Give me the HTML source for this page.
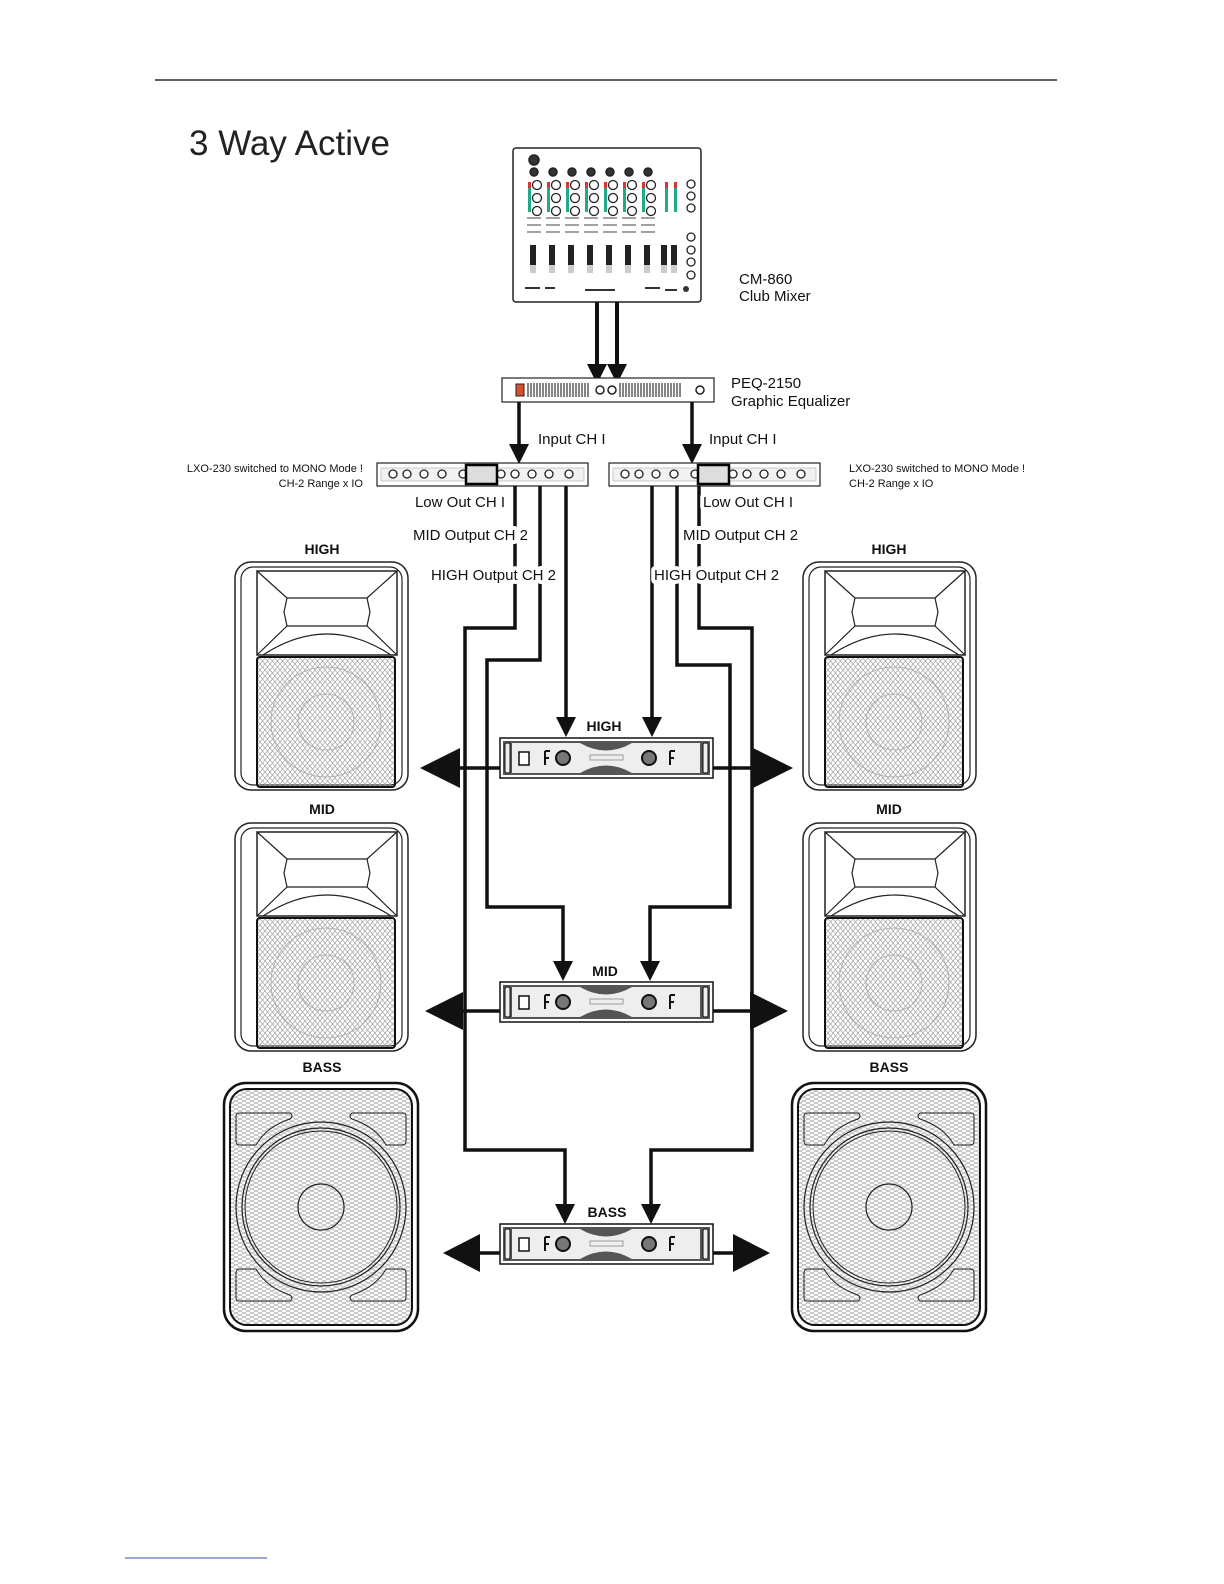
<!DOCTYPE html>
<html><head><meta charset="utf-8"><style>
html,body{margin:0;padding:0;background:#fff;}
body{width:1224px;height:1584px;position:relative;overflow:hidden;font-family:"Liberation Sans",sans-serif;}
svg{position:absolute;left:0;top:0;}
</style></head><body>
<svg width="1224" height="1584" viewBox="0 0 1224 1584" xmlns="http://www.w3.org/2000/svg">
<defs>
<pattern id="hatch" width="8" height="8" patternUnits="userSpaceOnUse">
<path d="M0 0L8 4M0 4L8 8M0 8L8 4M0 4L8 0" stroke="#aaa" stroke-width="0.7" fill="none"/>
</pattern>
<pattern id="mesh" width="5" height="6" patternUnits="userSpaceOnUse">
<path d="M0 0L2.5 3L0 6M5 0L2.5 3L5 6" stroke="#999" stroke-width="0.6" fill="none"/>
</pattern>
<g id="top">
<rect x="0" y="0" width="173" height="228" rx="16" fill="#fff" stroke="#222" stroke-width="1.5"/>
<rect x="6" y="5" width="161" height="218" rx="12" fill="none" stroke="#222" stroke-width="1.2"/>
<rect x="22" y="9" width="140" height="84" fill="none" stroke="#222" stroke-width="1.5"/>
<path d="M52 36 L132 36 L135 50 L132 64 L52 64 L49 50 Z" fill="none" stroke="#222" stroke-width="1.2"/>
<path d="M22 9 L52 36 M162 9 L132 36 M22 93 L52 64 M162 93 L132 64 M28 93 Q60 72 92 72 Q124 72 156 93" fill="none" stroke="#222" stroke-width="1.2"/>
<rect x="22" y="95" width="138" height="130" rx="3" fill="url(#mesh)" stroke="#111" stroke-width="2"/>
<circle cx="91" cy="160" r="55" fill="none" stroke="#aaa" stroke-width="0.8"/>
<circle cx="91" cy="160" r="28" fill="none" stroke="#aaa" stroke-width="0.8"/>
</g>
<g id="bass">
<rect x="0" y="0" width="194" height="248" rx="22" fill="#fff" stroke="#111" stroke-width="2.5"/>
<rect x="6" y="6" width="182" height="236" rx="17" fill="url(#hatch)" stroke="#111" stroke-width="2"/>
<path d="M12 33 Q12 30 16 30 L66 30 Q70 33 66 36 Q42 44 32 62 L16 62 Q12 62 12 58 Z" fill="none" stroke="#222"/>
<path d="M182 33 Q182 30 178 30 L128 30 Q124 33 128 36 Q152 44 162 62 L178 62 Q182 62 182 58 Z" fill="none" stroke="#222"/>
<path d="M12 215 Q12 218 16 218 L66 218 Q70 215 66 212 Q42 204 32 186 L16 186 Q12 186 12 190 Z" fill="none" stroke="#222"/>
<path d="M182 215 Q182 218 178 218 L128 218 Q124 215 128 212 Q152 204 162 186 L178 186 Q182 186 182 190 Z" fill="none" stroke="#222"/>
<circle cx="97" cy="124" r="85" fill="none" stroke="#222" stroke-width="1.2"/>
<circle cx="97" cy="124" r="79" fill="none" stroke="#222" stroke-width="1.2"/>
<circle cx="97" cy="124" r="76" fill="none" stroke="#222" stroke-width="1"/>
<circle cx="97" cy="124" r="23" fill="none" stroke="#222" stroke-width="1.2"/>
</g>
<g id="amp">
<rect x="0" y="0" width="213" height="40" fill="#fff" stroke="#111" stroke-width="1.5"/>
<path d="M3 3 L210 3 L210 37 L3 37 Z" fill="#555"/>
<path d="M12 5 L80 5 Q106 20 132 5 L200 5 L200 35 L132 35 Q106 20 80 35 L12 35 Z" fill="#eee"/>
<rect x="5" y="5" width="5" height="30" rx="2" fill="#eee" stroke="#111"/>
<rect x="203" y="5" width="5" height="30" rx="2" fill="#eee" stroke="#111"/>
<rect x="19" y="14" width="10" height="13" fill="#fff" stroke="#111" stroke-width="1.5"/>
<path d="M45 13 L45 27 M45 13 L50 13 M45 20 L49 20" stroke="#111" stroke-width="2"/>
<circle cx="63" cy="20" r="7" fill="#777" stroke="#111" stroke-width="2"/>
<circle cx="149" cy="20" r="7" fill="#777" stroke="#111" stroke-width="2"/>
<path d="M170 13 L170 27 M170 13 L175 13 M170 20 L174 20" stroke="#111" stroke-width="2"/>
<rect x="90" y="17" width="33" height="5" fill="none" stroke="#888" stroke-width="0.8"/>
</g>
<g id="xo">
<rect x="0" y="0" width="211" height="23" fill="#fff" stroke="#222" stroke-width="1.2"/>
<rect x="4" y="5" width="203" height="13" fill="#f2f2f2" stroke="#999" stroke-width="0.5"/>
<g fill="#fff" stroke="#222" stroke-width="1.3">
<circle cx="16" cy="11" r="4"/><circle cx="30" cy="11" r="4"/><circle cx="47" cy="11" r="4"/><circle cx="65" cy="11" r="4"/><circle cx="86" cy="11" r="4"/>
<circle cx="124" cy="11" r="4"/><circle cx="138" cy="11" r="4"/><circle cx="155" cy="11" r="4"/><circle cx="172" cy="11" r="4"/><circle cx="192" cy="11" r="4"/>
</g>
<rect x="89" y="2" width="31" height="19" fill="#ddd" stroke="#000" stroke-width="2.5"/>
</g>
</defs>

<line x1="155" y1="80" x2="1057" y2="80" stroke="#000" stroke-width="1.2"/>
<line x1="125" y1="1558" x2="267" y2="1558" stroke="#3355aa" stroke-width="1"/>
<text x="189" y="155" font-size="35" fill="#222" font-family="Liberation Sans, sans-serif">3 Way Active</text>

<!-- mixer -->
<rect x="513" y="148" width="188" height="154" rx="3" fill="#fff" stroke="#222" stroke-width="1.5"/>
<g stroke="#222" fill="#fff" stroke-width="1.5">
<circle cx="534" cy="160" r="5" fill="#333"/>
<circle cx="534" cy="172" r="4" fill="#333"/><circle cx="553" cy="172" r="4" fill="#333"/><circle cx="572" cy="172" r="4" fill="#333"/><circle cx="591" cy="172" r="4" fill="#333"/><circle cx="610" cy="172" r="4" fill="#333"/><circle cx="629" cy="172" r="4" fill="#333"/><circle cx="648" cy="172" r="4" fill="#333"/>
</g>
<g stroke="#222" fill="#fff" stroke-width="1.3">
<circle cx="537" cy="185" r="4.5"/><circle cx="537" cy="198" r="4.5"/><circle cx="537" cy="211" r="4.5"/>
<circle cx="556" cy="185" r="4.5"/><circle cx="556" cy="198" r="4.5"/><circle cx="556" cy="211" r="4.5"/>
<circle cx="575" cy="185" r="4.5"/><circle cx="575" cy="198" r="4.5"/><circle cx="575" cy="211" r="4.5"/>
<circle cx="594" cy="185" r="4.5"/><circle cx="594" cy="198" r="4.5"/><circle cx="594" cy="211" r="4.5"/>
<circle cx="613" cy="185" r="4.5"/><circle cx="613" cy="198" r="4.5"/><circle cx="613" cy="211" r="4.5"/>
<circle cx="632" cy="185" r="4.5"/><circle cx="632" cy="198" r="4.5"/><circle cx="632" cy="211" r="4.5"/>
<circle cx="651" cy="185" r="4.5"/><circle cx="651" cy="198" r="4.5"/><circle cx="651" cy="211" r="4.5"/>
<circle cx="691" cy="184" r="4"/><circle cx="691" cy="196" r="4"/><circle cx="691" cy="208" r="4"/>
<circle cx="691" cy="237" r="4"/><circle cx="691" cy="250" r="4"/><circle cx="691" cy="262" r="4"/><circle cx="691" cy="275" r="4"/>
</g>
<g fill="#2a8">
<rect x="528" y="182" width="3" height="30"/><rect x="547" y="182" width="3" height="30"/><rect x="566" y="182" width="3" height="30"/><rect x="585" y="182" width="3" height="30"/><rect x="604" y="182" width="3" height="30"/><rect x="623" y="182" width="3" height="30"/><rect x="642" y="182" width="3" height="30"/><rect x="665" y="182" width="3" height="30"/><rect x="674" y="182" width="3" height="30"/>
</g>
<g fill="#d33"><rect x="528" y="182" width="3" height="6"/><rect x="547" y="182" width="3" height="6"/><rect x="566" y="182" width="3" height="6"/><rect x="585" y="182" width="3" height="6"/><rect x="604" y="182" width="3" height="6"/><rect x="623" y="182" width="3" height="6"/><rect x="642" y="182" width="3" height="6"/><rect x="665" y="182" width="3" height="6"/><rect x="674" y="182" width="3" height="6"/></g>
<g stroke="#444" stroke-width="1">
<path d="M527 218h14M546 218h14M565 218h14M584 218h14M603 218h14M622 218h14M641 218h14M527 225h14M546 225h14M565 225h14M584 225h14M603 225h14M622 225h14M641 225h14M527 232h14M546 232h14M565 232h14M584 232h14M603 232h14M622 232h14M641 232h14"/>
</g>
<g fill="#222">
<rect x="530" y="245" width="6" height="20"/><rect x="549" y="245" width="6" height="20"/><rect x="568" y="245" width="6" height="20"/><rect x="587" y="245" width="6" height="20"/><rect x="606" y="245" width="6" height="20"/><rect x="625" y="245" width="6" height="20"/><rect x="644" y="245" width="6" height="20"/><rect x="661" y="245" width="6" height="20"/><rect x="671" y="245" width="6" height="20"/>
</g>
<g fill="#ccc"><rect x="530" y="265" width="6" height="8"/><rect x="549" y="265" width="6" height="8"/><rect x="568" y="265" width="6" height="8"/><rect x="587" y="265" width="6" height="8"/><rect x="606" y="265" width="6" height="8"/><rect x="625" y="265" width="6" height="8"/><rect x="644" y="265" width="6" height="8"/><rect x="661" y="265" width="6" height="8"/><rect x="671" y="265" width="6" height="8"/></g>
<path d="M525 288h15M545 288h10M585 290h30M645 288h15M665 290h12" stroke="#333" stroke-width="2"/>
<circle cx="686" cy="289" r="3" fill="#333"/>

<g stroke="#111" stroke-width="4" fill="#111">
<line x1="597" y1="302" x2="597" y2="366"/><line x1="617" y1="302" x2="617" y2="366"/>
</g>
<path d="M587 364 L607 364 L597 384 Z M607 364 L627 364 L617 384 Z" fill="#111"/>

<!-- EQ -->
<rect x="502" y="378" width="212" height="24" fill="#fff" stroke="#222" stroke-width="1.2"/>
<rect x="516" y="384" width="8" height="12" fill="#d85030" stroke="#222"/>
<g stroke="#333" stroke-width="1.2">
<path d="M528 383v14M531 383v14M534 383v14M537 383v14M540 383v14M543 383v14M546 383v14M549 383v14M552 383v14M555 383v14M558 383v14M561 383v14M564 383v14M567 383v14M570 383v14M573 383v14M576 383v14M579 383v14M582 383v14M585 383v14M588 383v14"/>
<path d="M620 383v14M623 383v14M626 383v14M629 383v14M632 383v14M635 383v14M638 383v14M641 383v14M644 383v14M647 383v14M650 383v14M653 383v14M656 383v14M659 383v14M662 383v14M665 383v14M668 383v14M671 383v14M674 383v14M677 383v14M680 383v14"/>
</g>
<circle cx="600" cy="390" r="4" fill="#fff" stroke="#222" stroke-width="1.5"/><circle cx="612" cy="390" r="4" fill="#fff" stroke="#222" stroke-width="1.5"/><circle cx="700" cy="390" r="4" fill="#fff" stroke="#222" stroke-width="1.5"/>

<g stroke="#111" stroke-width="3.5" fill="none">
<line x1="519" y1="402" x2="519" y2="446"/><line x1="692" y1="402" x2="692" y2="446"/>
</g>
<path d="M509 444 L529 444 L519 464 Z M682 444 L702 444 L692 464 Z" fill="#111"/>

<use href="#xo" x="377" y="463"/>
<use href="#xo" x="609" y="463"/>

<g stroke="#111" stroke-width="3.5" fill="none">
<path d="M515 486 V628 H465 V1150 H565 V1205"/>
<path d="M540 486 V660 H487 V907 H563 V962"/>
<line x1="566" y1="486" x2="566" y2="718"/>
<path d="M699 486 V628 H752 V1150 H651 V1205"/>
<path d="M677 486 V665 H730 V907 H650 V962"/>
<line x1="652" y1="486" x2="652" y2="718"/>
<line x1="455" y1="768" x2="500" y2="768"/><line x1="713" y1="768" x2="758" y2="768"/>
<line x1="460" y1="1011" x2="500" y2="1011"/><line x1="713" y1="1011" x2="752" y2="1011"/>
<line x1="480" y1="1253" x2="500" y2="1253"/><line x1="713" y1="1253" x2="735" y2="1253"/>
</g>
<path d="M556 717 L576 717 L566 737 Z M642 717 L662 717 L652 737 Z" fill="#111"/>
<path d="M553 961 L573 961 L563 981 Z M640 961 L660 961 L650 981 Z" fill="#111"/>
<path d="M555 1204 L575 1204 L565 1224 Z M641 1204 L661 1204 L651 1224 Z" fill="#111"/>
<path d="M420 768 L460 748 L460 788 Z" fill="#111"/>
<path d="M793 768 L753 748 L753 788 Z" fill="#111"/>
<path d="M425 1011 L463 992 L463 1030 Z" fill="#111"/>
<path d="M788 1011 L750 992 L750 1030 Z" fill="#111"/>
<path d="M443 1253 L480 1234 L480 1272 Z" fill="#111"/>
<path d="M770 1253 L733 1234 L733 1272 Z" fill="#111"/>

<use href="#amp" x="500" y="738"/>
<use href="#amp" x="500" y="982"/>
<use href="#amp" x="500" y="1224"/>

<use href="#top" x="235" y="562"/>
<use href="#top" x="235" y="823"/>
<use href="#top" x="803" y="562"/>
<use href="#top" x="803" y="823"/>
<use href="#bass" x="224" y="1083"/>
<use href="#bass" x="792" y="1083"/>

<g font-family="Liberation Sans, sans-serif" fill="#111">
<text x="739" y="284" font-size="15">CM-860</text>
<text x="739" y="301" font-size="15">Club Mixer</text>
<text x="731" y="388" font-size="15">PEQ-2150</text>
<text x="731" y="406" font-size="15">Graphic Equalizer</text>
<text x="538" y="444" font-size="15">Input CH I</text>
<text x="709" y="444" font-size="15">Input CH I</text>
<text x="363" y="472" font-size="11" text-anchor="end">LXO-230 switched to MONO Mode !</text>
<text x="363" y="487" font-size="11" text-anchor="end">CH-2 Range x IO</text>
<text x="849" y="472" font-size="11">LXO-230 switched to MONO Mode !</text>
<text x="849" y="487" font-size="11">CH-2 Range x IO</text>
<g stroke="#fff" stroke-width="8" paint-order="stroke" stroke-linejoin="round" font-size="15">
<text x="505" y="507" text-anchor="end">Low Out CH I</text>
<text x="703" y="507">Low Out CH I</text>
<text x="528" y="540" text-anchor="end">MID Output CH 2</text>
<text x="683" y="540">MID Output CH 2</text>
<text x="556" y="580" text-anchor="end">HIGH Output CH 2</text>
<text x="654" y="580">HIGH Output CH 2</text>
</g>
<g font-weight="bold" font-size="14" text-anchor="middle">
<text x="322" y="554">HIGH</text><text x="889" y="554">HIGH</text>
<text x="322" y="814">MID</text><text x="889" y="814">MID</text>
<text x="322" y="1072">BASS</text><text x="889" y="1072">BASS</text>
<text x="604" y="731">HIGH</text>
<text x="605" y="976">MID</text>
<text x="607" y="1217">BASS</text>
</g>
</g>
</svg>
</body></html>
